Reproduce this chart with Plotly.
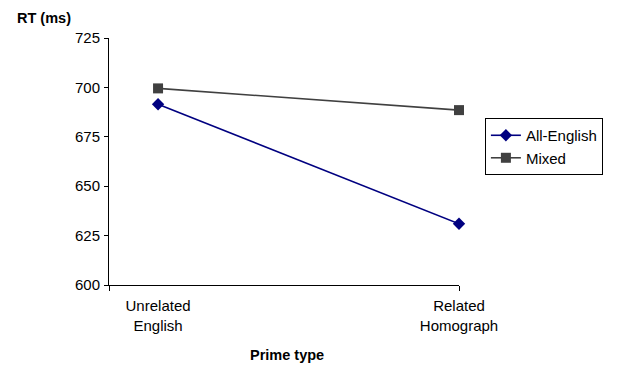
import plotly.graph_objects as go

categories = ["Unrelated<br>English", "Related<br>Homograph"]
all_english = [691.5, 631.0]
mixed = [699.5, 688.5]
y_ticks = [600, 625, 650, 675, 700, 725]

FONT = "Liberation Sans, Arial, sans-serif"
x_pos = list(range(len(categories)))

fig = go.Figure()
fig.add_trace(go.Scatter(
    x=x_pos, y=all_english, name="All-English", mode="lines+markers",
    line=dict(color="#000080", width=1.6),
    marker=dict(symbol="diamond", size=9.5, color="#000080"),
    cliponaxis=False,
))
fig.add_trace(go.Scatter(
    x=x_pos, y=mixed, name="Mixed", mode="lines+markers",
    line=dict(color="#404040", width=1.6),
    marker=dict(symbol="square", size=10, color="#404040"),
    cliponaxis=False,
))
# invisible trace to carry the boundary tick marks on the secondary x axis
fig.add_trace(go.Scatter(x=[-0.163, 1], y=[600, 600], xaxis="x2", mode="none",
                         showlegend=False, hoverinfo="skip"))

fig.update_layout(
    width=622, height=365,
    margin=dict(l=109, r=163, t=38, b=80),
    paper_bgcolor="white", plot_bgcolor="white",
    font=dict(family=FONT, size=15, color="black"),
    xaxis=dict(
        range=[-0.163, 1], tickvals=x_pos, ticktext=categories,
        showline=True, linecolor="black", linewidth=1,
        ticks="", showgrid=False, zeroline=False, ticklabelstandoff=7,
    ),
    xaxis2=dict(
        range=[-0.163, 1], overlaying="x", side="bottom", anchor="y",
        tickvals=[-0.163, 1], ticks="outside", ticklen=5, tickcolor="black",
        showticklabels=False, showgrid=False, zeroline=False, showline=False,
    ),
    yaxis=dict(
        range=[600, 725], tickvals=y_ticks,
        showline=True, linecolor="black", linewidth=1,
        ticks="outside", ticklen=4, tickcolor="black",
        showgrid=False, zeroline=False, ticklabelstandoff=1,
    ),
    legend=dict(
        x=1.074, y=0.676, xanchor="left", yanchor="top",
        bordercolor="black", borderwidth=1, bgcolor="white",
        font=dict(family=FONT, size=15), tracegroupgap=0,
        itemwidth=30,
    ),
    showlegend=True,
    annotations=[
        dict(text="<b>RT (ms)</b>", xref="paper", yref="paper",
             x=-0.269, y=1.081, xanchor="left", yanchor="middle",
             showarrow=False, font=dict(size=14.5)),
        dict(text="<b>Prime type</b>", xref="paper", yref="paper",
             x=0.509, y=-0.283, xanchor="center", yanchor="middle",
             showarrow=False, font=dict(size=14.5)),
    ],
)

fig.write_html("out.html")
